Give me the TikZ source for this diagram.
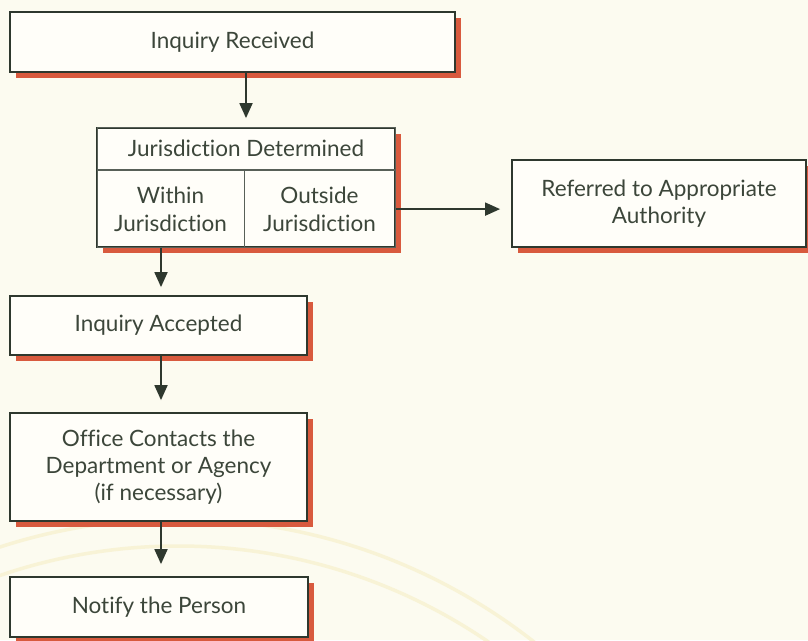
\documentclass[tikz,border=0pt]{standalone}
\usepackage{fontspec}
\setmainfont{Lato}[Ligatures=NoCommon]
\usepackage{xcolor}
\usepackage{tikz}
\usetikzlibrary{arrows.meta,shadows}
\definecolor{paper}{HTML}{FCFBF0}
\definecolor{boxbg}{HTML}{FFFEF9}
\definecolor{ink}{HTML}{2E382E}
\definecolor{words}{HTML}{3C463A}
\definecolor{shade}{HTML}{D85A3E}
\definecolor{arcc}{HTML}{F8F3D6}
\tikzset{
  box/.style={draw=ink, line width=1.8pt, fill=boxbg, text=words,
    font=\fontsize{22.5}{27}\selectfont, align=center, inner sep=0pt,
    drop shadow={shadow xshift=6pt, shadow yshift=-6pt, fill=shade, opacity=1}},
  cell/.style={draw=ink!80, line width=1pt, text=words,
    font=\fontsize{22.5}{28}\selectfont, align=center, inner sep=0pt},
  arr/.style={draw=ink, line width=1.8pt, -{Triangle[width=13pt,length=15pt]}},
  glow/.style={draw=arcc, line width=3.5pt}
}
\begin{document}
\begin{tikzpicture}[x=1pt,y=-1pt]
  \fill[paper] (0,0) rectangle (808,640);
  \useasboundingbox (0,0) rectangle (808,640);
  \begin{scope}
    \clip (0,0) rectangle (808,640);
    \draw[glow] (178,1096) circle (577);
    \draw[glow] (178,1096) circle (550);
  \end{scope}

  \node[box, minimum width=445, minimum height=60] (recv) at (232.5,42) {Inquiry Received};

  \node[box, minimum width=298, minimum height=119] (jbox) at (246,187.5) {};
  \node[cell, minimum width=298, minimum height=42, anchor=north] (jur) at (jbox.north) {Jurisdiction Determined};
  \node[cell, minimum width=147, minimum height=77, anchor=north west] (within) at (jur.south west) {Within\\Jurisdiction};
  \node[cell, minimum width=151, minimum height=77, anchor=north east] (outside) at (jur.south east) {Outside\\Jurisdiction};

  \node[box, minimum width=294, minimum height=87] (refer) at (659,203.5) {Referred to Appropriate\\Authority};

  \node[box, minimum width=297, minimum height=59] (accept) at (158.5,325.5) {Inquiry Accepted};
  \node[box, minimum width=297, minimum height=108] (office) at (158.5,467) {Office Contacts the\\Department or Agency\\(if necessary)};
  \node[box, minimum width=298, minimum height=60] (notify) at (159,607) {Notify the Person};

  \draw[arr, shorten >=9pt] (jur.north |- recv.south) -- (jur.north);
  \draw[arr, shorten >=11pt] (outside.east) -- (outside.east -| refer.west);
  \draw[arr, shorten >=8pt] ([xshift=2.5pt]accept.north |- within.south) -- ([xshift=2.5pt]accept.north);
  \draw[arr, shorten >=12pt] ([xshift=2.5pt]accept.south) -- ([xshift=2.5pt]office.north);
  \draw[arr, shorten >=12pt] ([xshift=2.5pt]office.south) -- ([xshift=2.5pt]office.south |- notify.north);
\end{tikzpicture}
\end{document}
